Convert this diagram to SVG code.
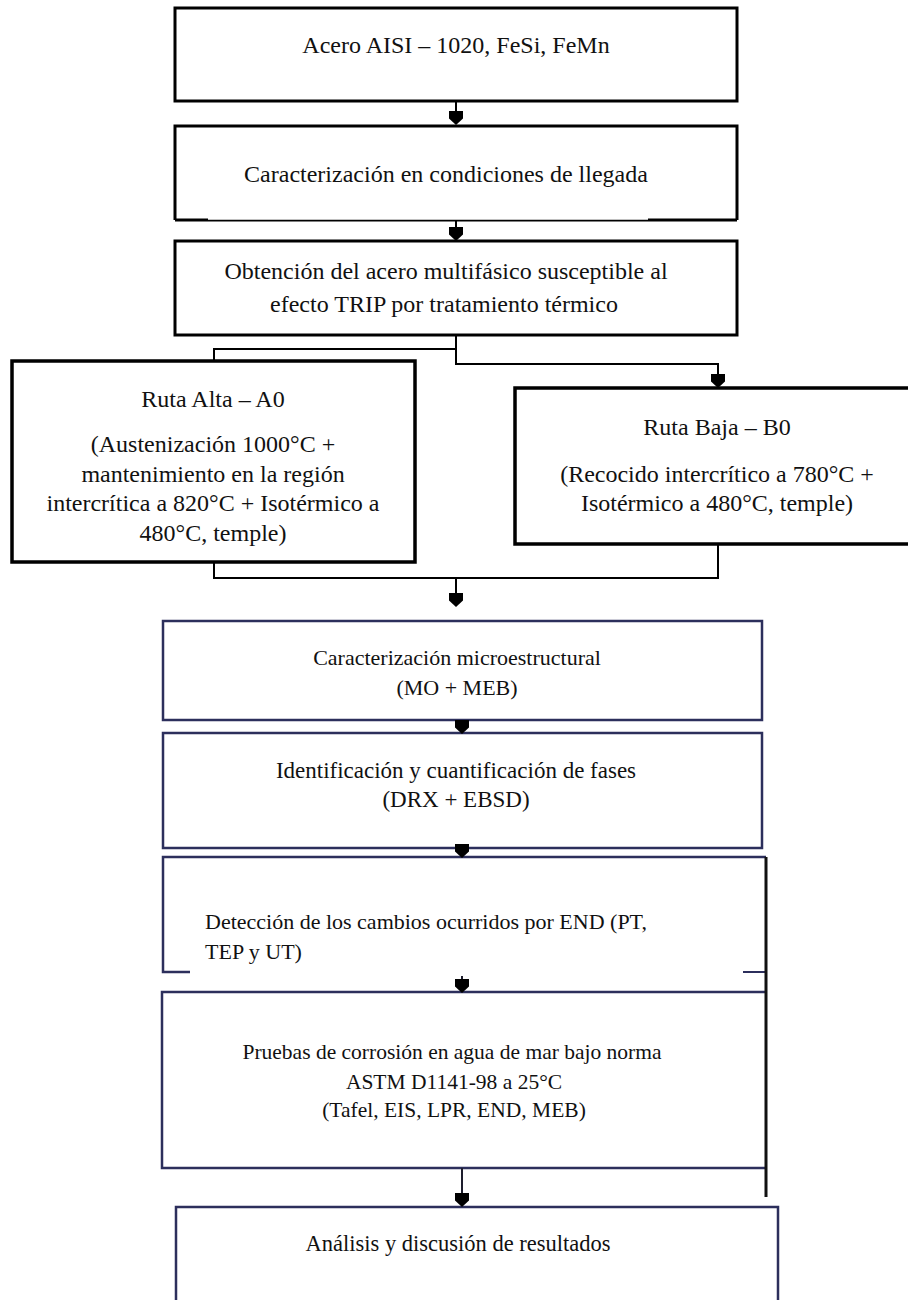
<svg xmlns="http://www.w3.org/2000/svg" width="908" height="1300" viewBox="0 0 908 1300">
  <style>
    text { font-family: "Liberation Serif", "Times New Roman", Times, serif; font-size: 24px; fill: #111; }
    #n4 text, #n6 text { font-size: 22px; }
    #n5 text { font-size: 23px; }
    #n7 text { font-size: 21.5px; }
    #n8 text { font-size: 22.5px; }
    .mid { text-anchor: middle; }
    .box { fill: #fff; stroke: #000; stroke-width: 3; }
    .boxn { fill: #fff; stroke: #2c2f5c; stroke-width: 2.5; }
    .wire { fill: none; stroke: #000; stroke-width: 2; }
    .wiren { fill: none; stroke: #1e1e2e; stroke-width: 2; }
  </style>
  <defs>
    <!-- downward arrowhead, tip at the origin -->
    <path id="ah" d="M-7,-14 H7 V-6.5 L0,0 L-7,-6.5 Z" fill="#000"/>
  </defs>

  <!-- top sequence -->
  <g id="n1">
    <rect class="box" x="175" y="8" width="562" height="93"/>
    <text class="mid" x="456" y="53">Acero AISI – 1020, FeSi, FeMn</text>
  </g>
  <g id="n2">
    <path class="box" d="M175,220 V126 H737 V220"/>
    <path d="M175,220 H208 M648,220 H737" stroke="#000" stroke-width="3"/>
    <path d="M208,220.6 H648" stroke="#000" stroke-width="1.6"/>
    <text class="mid" x="446" y="182">Caracterización en condiciones de llegada</text>
  </g>
  <g id="n3">
    <rect class="box" x="175" y="241" width="562" height="94"/>
    <text class="mid" x="446" y="279">Obtención del acero multifásico susceptible al</text>
    <text class="mid" x="444" y="312">efecto TRIP por tratamiento térmico</text>
  </g>

  <!-- two routes -->
  <g id="routeA">
    <rect x="12" y="361" width="403" height="201" fill="#fff" stroke="#000" stroke-width="3.5"/>
    <text class="mid" x="213" y="407">Ruta Alta – A0</text>
    <text class="mid" x="213" y="452">(Austenización 1000°C +</text>
    <text class="mid" x="213" y="482">mantenimiento en la región</text>
    <text class="mid" x="213" y="511">intercrítica a 820°C + Isotérmico a</text>
    <text class="mid" x="213" y="541">480°C, temple)</text>
  </g>
  <g id="routeB">
    <rect x="515" y="388" width="420" height="156" fill="#fff" stroke="#000" stroke-width="3.5"/>
    <text class="mid" x="717" y="435">Ruta Baja – B0</text>
    <text class="mid" x="717" y="482">(Recocido intercrítico a 780°C +</text>
    <text class="mid" x="717" y="511">Isotérmico a 480°C, temple)</text>
  </g>

  <!-- characterisation sequence -->
  <g id="n4">
    <rect class="boxn" x="163" y="621" width="599" height="99"/>
    <text class="mid" x="457" y="665">Caracterización microestructural</text>
    <text class="mid" x="457" y="695">(MO + MEB)</text>
  </g>
  <g id="n5">
    <rect class="boxn" x="163" y="733" width="599" height="115"/>
    <text class="mid" x="456" y="778">Identificación y cuantificación de fases</text>
    <text class="mid" x="456" y="807">(DRX + EBSD)</text>
  </g>
  <g id="n6">
    <path d="M190,972 H163 V857 H766" fill="none" stroke="#2c2f5c" stroke-width="2.5"/>
    <path d="M743,972 H766" fill="none" stroke="#2c2f5c" stroke-width="2"/>
    <text x="205" y="929">Detección de los cambios ocurridos por END (PT,</text>
    <text x="205" y="959">TEP y UT)</text>
  </g>
  <g id="n7">
    <path d="M766,992 H162 V1168 H766" fill="none" stroke="#2c2f5c" stroke-width="2.5"/>
    <text class="mid" x="452" y="1059">Pruebas de corrosión en agua de mar bajo norma</text>
    <text class="mid" x="454" y="1089">ASTM D1141-98 a 25°C</text>
    <text class="mid" x="454" y="1117">(Tafel, EIS, LPR, END, MEB)</text>
  </g>
  <g id="n8">
    <path d="M176,1300 V1207 H778 V1300" fill="#fff" stroke="#2c2f5c" stroke-width="2.5"/>
    <text class="mid" x="458" y="1251">Análisis y discusión de resultados</text>
  </g>

  <!-- connectors -->
  <g id="connectors">
    <path class="wire" d="M456,101 V118"/>
    <use href="#ah" x="456" y="125"/>
    <path class="wire" d="M456,220 V234"/>
    <use href="#ah" x="456" y="241"/>
    <!-- split into the two routes -->
    <path class="wire" d="M456,335 V364 H718 V380"/>
    <use href="#ah" x="718" y="388"/>
    <path class="wire" d="M456,349 H214 V361"/>
    <!-- merge of the two routes -->
    <path class="wire" d="M214,562 V578 H718 V544"/>
    <path class="wire" d="M456,578 V600"/>
    <use href="#ah" x="456" y="607"/>
    <!-- lower sequence -->
    <path class="wiren" d="M462,720 V728"/>
    <use href="#ah" x="462" y="734"/>
    <use href="#ah" x="462" y="858"/>
    <path class="wiren" d="M462,976 V986"/>
    <use href="#ah" x="462" y="993"/>
    <path class="wiren" d="M462,1168 V1200"/>
    <use href="#ah" x="462" y="1207"/>
    <!-- right-hand rail -->
    <path d="M766,857 V1197" stroke="#111" stroke-width="3" fill="none"/>
  </g>
</svg>
